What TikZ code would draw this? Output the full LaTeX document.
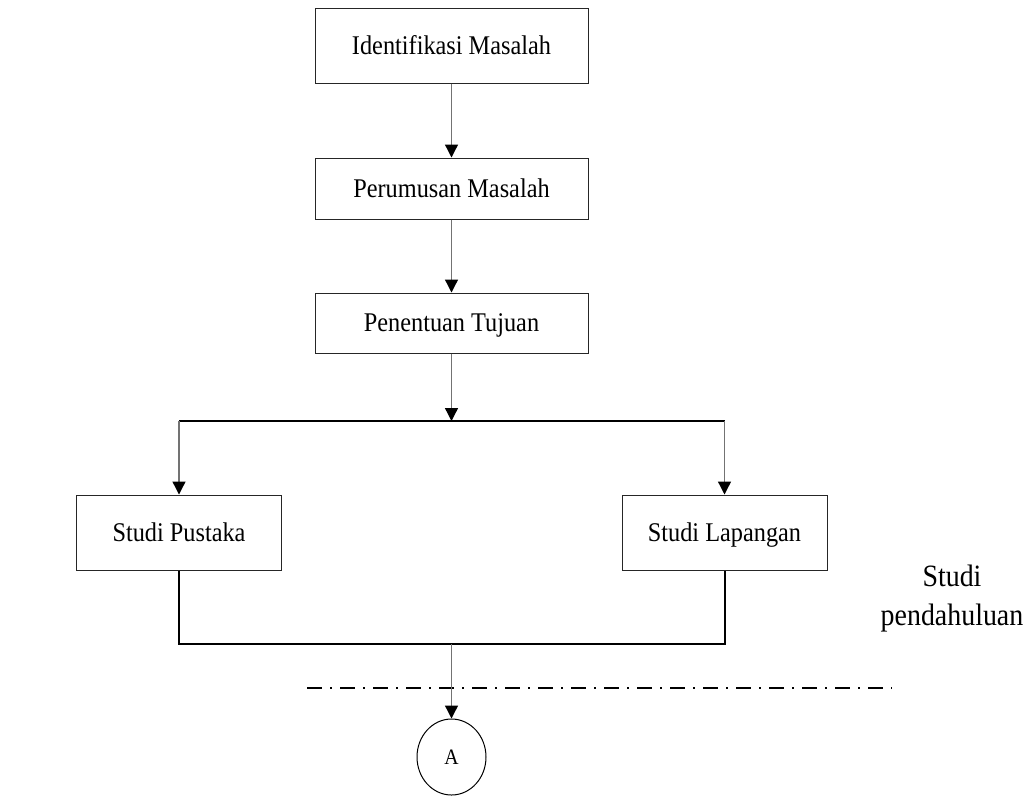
\documentclass[tikz,border=0pt]{standalone}
\usepackage{fontspec}
\setmainfont{Liberation Serif}[FakeStretch=0.9]
\usetikzlibrary{arrows.meta,shapes.geometric,positioning}

\begin{document}
\begin{tikzpicture}[x=1pt,y=-1pt,>={Triangle[width=13pt,length=13pt,color=black]},
	box/.style={draw=black!85,line width=1pt,rectangle,inner sep=0pt,text height=22pt,text depth=5pt,font=\fontsize{27}{32}\selectfont},
	flow/.style={->,draw=black!55,line width=1.3pt},
	joint/.style={line width=2pt}]
		\useasboundingbox (0,0) rectangle (1032,796);
		
		% the boxes
		\node[box,minimum width=273pt,minimum height=75pt] (im) at (451.5,45.5) {Identifikasi Masalah};
		\node[box,minimum width=273pt,minimum height=61pt] (pm) at (451.5,188.5) {Perumusan Masalah};
		\node[box,minimum width=273pt,minimum height=60pt] (pt) at (451.5,323) {Penentuan Tujuan};
		\node[box,minimum width=205pt,minimum height=75pt] (sp) at (179,532.5) {Studi Pustaka};
		\node[box,minimum width=205pt,minimum height=75pt] (sl) at (724.5,532.5) {Studi Lapangan};
		
		% the connector circle and the side label
		\node[draw,ellipse,line width=1pt,minimum width=69pt,minimum height=76pt,inner sep=0pt,font=\fontsize{22}{22}\selectfont] (a) at (451.5,757) {A};
		\node[align=center,font=\fontsize{31}{39}\selectfont] (sd) at (952,599) {Studi\\pendahuluan};
		
		\coordinate (split) at (451.5,421);
		\coordinate (merge) at (451.5,644);
		
		% the arrows and lines
		\draw[flow] (im) -- (pm);
		\draw[flow] (pm) -- (pt);
		\draw[flow] (pt) -- (split);
		\draw[joint] (sp.north |- split) -- (sl.north |- split);
		\draw[flow] (sp.north |- split) -- (sp);
		\draw[flow] (sl.north |- split) -- (sl);
		\draw[joint] (sp) -- (sp.south |- merge) -- (sl.south |- merge) -- (sl);
		\draw[line width=2pt,dash pattern=on 15pt off 8pt on 2pt off 8pt] (307,688) -- (892,688);
		\draw[flow] (merge) -- (a);
\end{tikzpicture}
\end{document}
